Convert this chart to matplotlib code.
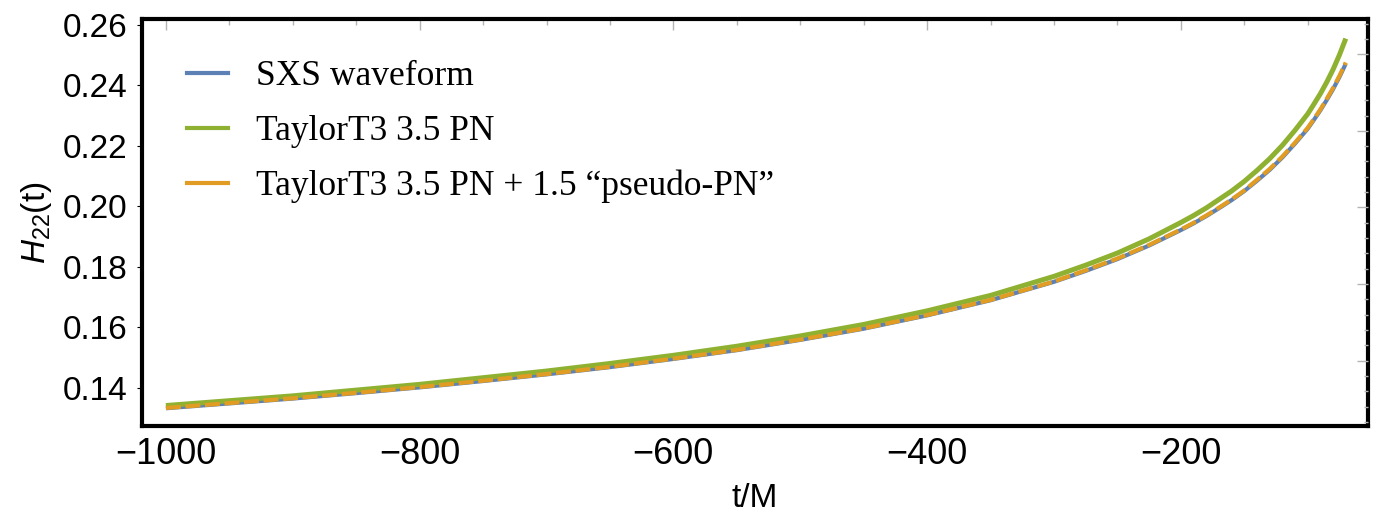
import matplotlib
matplotlib.use("Agg")
import matplotlib.pyplot as plt
from matplotlib.lines import Line2D
from matplotlib.ticker import MultipleLocator, AutoMinorLocator, FormatStrFormatter

plt.rcParams['font.family'] = ['Liberation Sans', 'DejaVu Sans']
plt.rcParams['mathtext.fontset'] = 'custom'
plt.rcParams['mathtext.rm'] = 'Liberation Sans'
plt.rcParams['mathtext.it'] = 'Liberation Sans:italic'

# data
t = [-1000, -950, -900, -850, -800, -750, -700, -650, -600, -550, -500, -450,
     -400, -350, -300, -275, -250, -225, -200, -190, -180, -170, -160, -150,
     -140, -130, -120, -110, -100, -95, -90, -85, -80, -75, -70]
sxs = [0.1333, 0.1349, 0.1365, 0.1383, 0.1402, 0.1423, 0.1445, 0.1469, 0.1496,
       0.1525, 0.1559, 0.1596, 0.1640, 0.1690, 0.1751, 0.1787, 0.1826, 0.1871,
       0.1922, 0.1944, 0.1968, 0.1994, 0.2021, 0.2051, 0.2085, 0.2121, 0.2162,
       0.2208, 0.2257, 0.2287, 0.2318, 0.2352, 0.2388, 0.2428, 0.2472]
t3 = [0.1342, 0.1358, 0.1374, 0.1393, 0.1412, 0.1434, 0.1456, 0.1481, 0.1508,
      0.1538, 0.1572, 0.1610, 0.1655, 0.1706, 0.1769, 0.1806, 0.1846, 0.1893,
      0.1947, 0.1970, 0.1995, 0.2023, 0.2051, 0.2083, 0.2119, 0.2158, 0.2202,
      0.2252, 0.2306, 0.2339, 0.2373, 0.2411, 0.2453, 0.2501, 0.2555]
t3_pseudo = [0.1334, 0.1350, 0.1366, 0.1384, 0.1403, 0.1424, 0.1446, 0.1470, 0.1497,
             0.1526, 0.1560, 0.1597, 0.1641, 0.1691, 0.1752, 0.1789, 0.1828, 0.1873,
             0.1924, 0.1946, 0.1970, 0.1996, 0.2023, 0.2053, 0.2088, 0.2124, 0.2165,
             0.2211, 0.2260, 0.2290, 0.2321, 0.2356, 0.2392, 0.2432, 0.2476]
labels = ["SXS waveform", "TaylorT3 3.5 PN", "TaylorT3 3.5 PN + 1.5 \u201cpseudo-PN\u201d"]
xticks = [-1000, -800, -600, -400, -200]
yticks = [0.14, 0.16, 0.18, 0.20, 0.22, 0.24, 0.26]

blue = "#5E81B5"
green = "#8FB131"
orange = "#E19C24"

fig = plt.figure(figsize=(13.86, 5.2), dpi=100)
ax = fig.add_axes([0.1023, 0.1808, 0.8847, 0.7827])

ax.plot(t, sxs, color=blue, lw=3.0, solid_capstyle='butt')
ax.plot(t, t3, color=green, lw=3.6, solid_capstyle='butt')
ax.plot(t, t3_pseudo, color=orange, lw=3.0, dashes=(3.6, 1.1))

ax.set_xlim(-1019, -52.5)
ax.set_ylim(0.12744, 0.26198)

for s in ax.spines.values():
    s.set_linewidth(3.0)
    s.set_color("black")

# ticks: marks only on the top frame, labels at the bottom
ax.set_xticks(xticks)
ax.set_xticklabels(["\u2212%d" % abs(v) for v in xticks])
ax.xaxis.set_minor_locator(MultipleLocator(50))
ax.tick_params(axis='x', which='both', bottom=False, top=True, labelbottom=True,
               labeltop=False, direction='in', color='#b4b4b4', width=1)
ax.tick_params(axis='x', which='major', length=8, labelsize=26, pad=8)
ax.tick_params(axis='x', which='minor', length=4)

ax.set_yticks(yticks)
ax.yaxis.set_major_formatter(FormatStrFormatter('%.2f'))
ax.tick_params(axis='y', which='both', left=False, right=False, labelsize=24, pad=7)

# right-hand frame ticks
ax2 = ax.twinx()
ax2.set_ylim(0.12295, 0.2292)
ax2.yaxis.set_major_locator(MultipleLocator(0.02))
ax2.yaxis.set_minor_locator(AutoMinorLocator(5))
ax2.tick_params(axis='y', which='both', direction='in', color='#b4b4b4', width=1,
                labelright=False)
ax2.tick_params(axis='y', which='major', length=8)
ax2.tick_params(axis='y', which='minor', length=3)
for s in ax2.spines.values():
    s.set_visible(False)

ax.set_xlabel("t/M", fontsize=24, labelpad=8)
ax.set_ylabel(r"$H_{22}$(t)", fontsize=24, labelpad=6)

handles = [Line2D([], [], color=blue, lw=3.0),
           Line2D([], [], color=green, lw=3.0),
           Line2D([], [], color=orange, lw=3.0)]
leg = ax.legend(handles, labels, loc='upper left', bbox_to_anchor=(0.1349, 0.8846),
                bbox_transform=fig.transFigure, frameon=False, borderpad=0,
                borderaxespad=0, handlelength=1.15, handletextpad=0.8, labelspacing=0.62,
                prop={'family': 'Liberation Serif', 'size': 25.5})

fig.savefig("out.png", dpi=100)
